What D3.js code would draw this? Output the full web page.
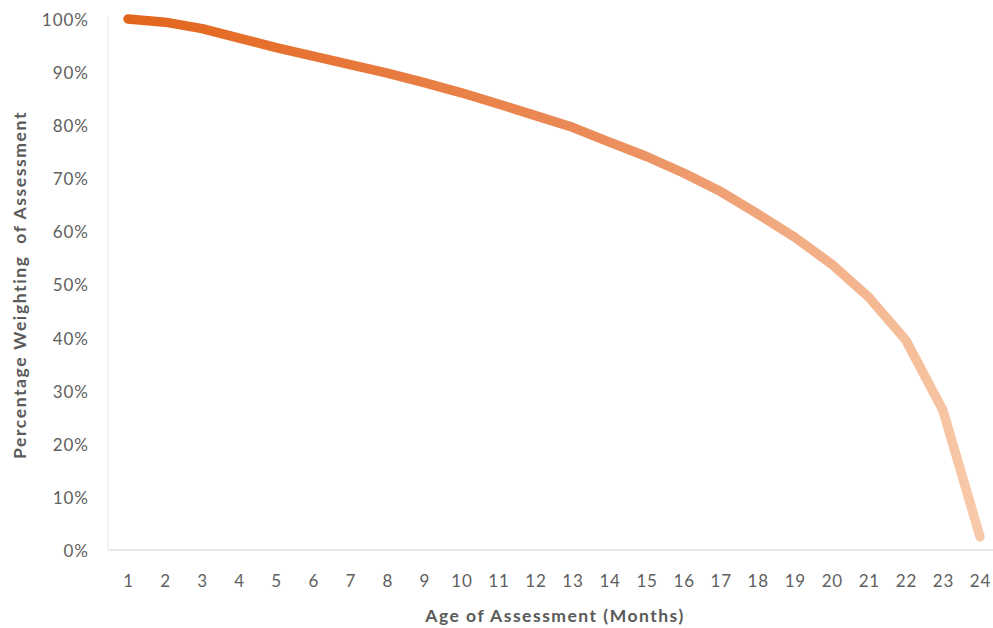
<!DOCTYPE html>
<html><head><meta charset="utf-8">
<script src="https://cdn.jsdelivr.net/npm/d3@7/dist/d3.min.js"></script>
<style>
html,body{margin:0;padding:0;background:#fff;}
text{font-family:Lato,"Open Sans",sans-serif;}
</style></head>
<body>
<svg id="c" width="993" height="628"></svg>
<script>
const months = ["1","2","3","4","5","6","7","8","9","10","11","12","13","14","15","16","17","18","19","20","21","22","23","24"];
const weights = [100,99.4,98.2,96.4,94.6,93,91.4,89.8,88,86.1,84,81.8,79.6,76.8,74.1,71,67.5,63.3,58.9,53.8,47.6,39.5,26.3,2.5];
const yTicks = [0,10,20,30,40,50,60,70,80,90,100];
const xTitle = "Age of Assessment (Months)";
const yTitle = "Percentage Weighting  of Assessment";

const svg = d3.select("#c");
const x = d3.scalePoint().domain(months).range([128, 980]);
const y = d3.scaleLinear().domain([0,100]).range([550, 19]);

// axis lines
svg.append("line").attr("x1",108).attr("x2",993).attr("y1",550).attr("y2",550)
  .attr("stroke","#dce2ea").attr("stroke-width",1.5);
svg.append("line").attr("x1",108).attr("x2",108).attr("y1",16).attr("y2",550)
  .attr("stroke","#eef1f5").attr("stroke-width",1.5);

// y tick labels
const yAxis = d3.axisLeft(y).tickValues(yTicks).tickFormat(d=>d+"%").tickSize(0).tickPadding(20);
const gy = svg.append("g").attr("transform","translate(108,0)").call(yAxis);
gy.select(".domain").remove();
gy.selectAll("text").attr("fill","#606060").attr("font-size",17).attr("letter-spacing","1px")
  .attr("dy","0.38em").attr("x",-19);

// x tick labels
const xAxis = d3.axisBottom(x).tickSize(0).tickPadding(0);
const gx = svg.append("g").attr("transform","translate(0,575)").call(xAxis);
gx.select(".domain").remove();
gx.selectAll("text").attr("fill","#606060").attr("font-size",17).attr("letter-spacing","0.8px").attr("dy","0.71em");

// titles
svg.append("text").attr("x",555).attr("y",622).attr("text-anchor","middle")
  .attr("font-size",17.5).attr("font-weight","bold").attr("letter-spacing","1.5px").attr("fill","#5a5a5a").text(xTitle);
svg.append("text").attr("transform","translate(26,285) rotate(-90)").attr("text-anchor","middle")
  .attr("font-size",17.5).attr("font-weight","bold").attr("letter-spacing","1.6px").attr("fill","#5a5a5a")
  .attr("xml:space","preserve").style("white-space","pre").text(yTitle);

// gradient
const defs = svg.append("defs");
const grad = defs.append("linearGradient").attr("id","lg").attr("gradientUnits","userSpaceOnUse")
  .attr("x1",x(months[0])).attr("x2",x(months[months.length-1])).attr("y1",0).attr("y2",0);
grad.append("stop").attr("offset","0%").attr("stop-color","#e3651c");
grad.append("stop").attr("offset","55%").attr("stop-color","#eb8c5a");
grad.append("stop").attr("offset","100%").attr("stop-color","#f8caaa");

const line = d3.line().x((d,i)=>x(months[i])).y(d=>y(d));
svg.append("path").datum(weights).attr("d",line).attr("fill","none")
  .attr("stroke","url(#lg)").attr("stroke-width",9.5).attr("stroke-linecap","round").attr("stroke-linejoin","round");
</script>
</body></html>
